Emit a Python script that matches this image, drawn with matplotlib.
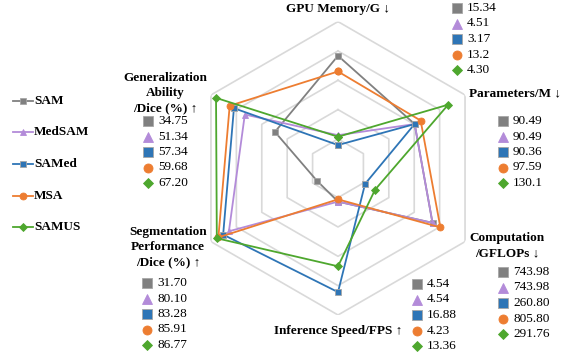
import numpy as np
import matplotlib.pyplot as plt

plt.rcParams['font.family'] = ['Liberation Serif', 'DejaVu Serif']

W, H = 572, 354

models = ['SAM', 'MedSAM', 'SAMed', 'MSA', 'SAMUS']
colors = ['#808080', '#b38bd9', '#2e75b6', '#ed7d31', '#4ea72e']
markers = ['s', '^', 's', 'o', 'D']

# axes, clockwise from top
axis_names = ['GPU Memory/G ↓', 'Parameters/M ↓', 'Computation\n/GFLOPs ↓',
              'Inference Speed/FPS ↑', 'Segmentation\nPerformance\n/Dice (%) ↑',
              'Generalization\nAbility\n/Dice (%) ↑']
axis_min = [0, 0, 0, 0, 20, 0]
axis_max = [20, 150, 1000, 20, 90, 70]

# plotted values, one list per axis (model order as above)
gpu_memory = [15.34, 4.51, 3.17, 13.2, 4.30]
parameters = [90.49, 90.49, 90.36, 97.59, 130.1]
computation = [743.98, 743.98, 213.0, 805.80, 291.76]  # SAMed point sits near 213 in the figure
inference_fps = [4.54, 4.54, 16.88, 4.23, 13.36]
seg_dice = [31.70, 80.10, 83.28, 85.91, 86.77]
gen_dice = [34.75, 51.34, 57.34, 59.68, 67.20]

# printed values next to each axis
gpu_text = ['15.34', '4.51', '3.17', '13.2', '4.30']
param_text = ['90.49', '90.49', '90.36', '97.59', '130.1']
comp_text = ['743.98', '743.98', '260.80', '805.80', '291.76']
fps_text = ['4.54', '4.54', '16.88', '4.23', '13.36']
seg_text = ['31.70', '80.10', '83.28', '85.91', '86.77']
gen_text = ['34.75', '51.34', '57.34', '59.68', '67.20']

values = np.array([gpu_memory, parameters, computation, inference_fps, seg_dice, gen_dice])  # (A, M)
norm = (values - np.array(axis_min)[:, None]) / (np.array(axis_max) - np.array(axis_min))[:, None]

fig = plt.figure(figsize=(W / 100, H / 100), dpi=100)

# overlay in pixel coords for text / legend
ov = fig.add_axes([0, 0, 1, 1])
ov.set_xlim(0, W)
ov.set_ylim(H, 0)
ov.axis('off')

# radar axes: center (338, 168.3), radius 146.7 px
cx, cy, R = 338.0, 168.3, 146.7
ax = fig.add_axes([(cx - R) / W, 1 - (cy + R) / H, 2 * R / W, 2 * R / H], projection='polar')
ax.set_theta_offset(np.pi / 2)
ax.set_theta_direction(-1)
ax.set_ylim(0, 1)
ax.axis('off')

n_ax = len(axis_names)
theta = np.linspace(0, 2 * np.pi, n_ax, endpoint=False)
theta_c = np.append(theta, theta[0])

for r in [0.2, 0.4, 0.6, 0.8, 1.0]:
    ax.plot(theta_c, [r] * (n_ax + 1), color='#d9d9d9', lw=1.2, zorder=1)

for m, name in enumerate(models):
    r = np.append(norm[:, m], norm[0, m])
    ms = 3.8 if markers[m] == 'D' else 5
    ax.plot(theta_c, r, color=colors[m], lw=1.3, marker=markers[m], ms=ms,
            mec='#a6a6a6' if markers[m] == 's' else colors[m], mew=0.6,
            zorder=2 + m, clip_on=False)

# axis titles: (center x, first line y)
title_pos = [(338, 9), (515, 93), (507, 238), (338, 331), (168, 232), (165, 78)]
for name, (x, y) in zip(axis_names, title_pos):
    for i, line in enumerate(name.split('\n')):
        ov.text(x, y + i * 15, line, ha='center', va='center', fontsize=9.5, fontweight='bold')

# value lists: (marker x, first row y)
value_texts = [gpu_text, param_text, comp_text, fps_text, seg_text, gen_text]
list_pos = [(457, 8), (503, 121), (503, 272), (417, 284), (147, 283), (148, 121)]
for texts, (x, y) in zip(value_texts, list_pos):
    for m, t in enumerate(texts):
        yy = y + m * 15.5
        ms = 5 if markers[m] == 'D' else 6.5
        ov.plot(x, yy, marker=markers[m], ms=ms, color=colors[m],
                mec='#a6a6a6' if markers[m] == 's' else colors[m], mew=0.6, clip_on=False)
        ov.text(x + 10, yy, t, ha='left', va='center', fontsize=9.5)

# legend on the left
leg_y = [101, 132, 164, 196, 227]
for m, name in enumerate(models):
    y = leg_y[m]
    ms = 3.8 if markers[m] == 'D' else 5
    ov.plot([13, 33], [y, y], color=colors[m], lw=1.3, marker=None)
    ov.plot(23, y, marker=markers[m], ms=ms, color=colors[m],
            mec='#a6a6a6' if markers[m] == 's' else colors[m], mew=0.6)
    ov.text(34, y, name, ha='left', va='center', fontsize=9.5, fontweight='bold')

fig.savefig('out.png', dpi=100)
